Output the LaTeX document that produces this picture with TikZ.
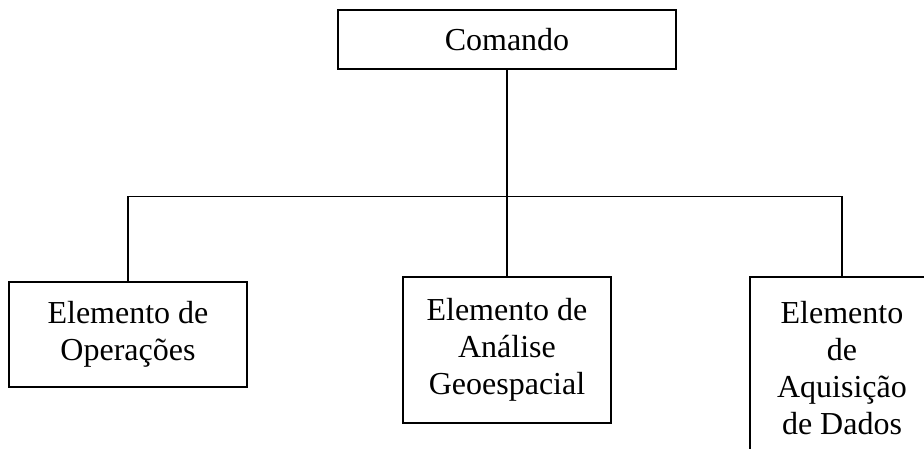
\documentclass[tikz,border=0pt]{standalone}
\usepackage{fontspec}
\setmainfont{Liberation Serif}

\begin{document}
\begin{tikzpicture}[x=1pt,y=-1pt,
    caixa/.style={draw, line width=1.2pt, align=center, inner sep=0pt,
      font=\fontsize{32}{37}\selectfont},
    ligacao/.style={line width=1.2pt}]
    \clip (0,0) rectangle (924,448);
    \node[caixa, minimum width=338pt, minimum height=59pt] (cmd) at (507,39.5) {Comando};
    \node[caixa, minimum width=238pt, minimum height=105pt] (op) at (128,334.5) {Elemento de\\Operações};
    \node[caixa, minimum width=208pt, minimum height=146pt] (an) at (507,350) {Elemento de\\Análise\\Geoespacial};
    \node[caixa, minimum width=184pt, minimum height=183pt] (aq) at (842,368.5) {Elemento\\de\\Aquisição\\de Dados};
    \draw[ligacao] (cmd.south) -- (an.north);
    \draw[ligacao] (op.north) -- ++(0,-85) -| (aq.north);
\end{tikzpicture}
\end{document}
